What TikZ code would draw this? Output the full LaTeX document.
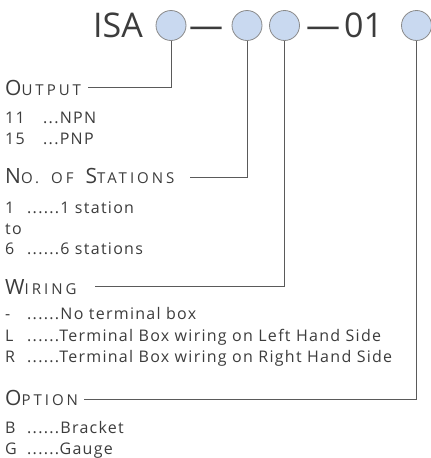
\documentclass[tikz,border=0pt]{standalone}
\usepackage{fontspec}
\setmainfont{Open Sans}[LetterSpace=8]
\newfontfamily\hdfont{Open Sans}[LetterSpace=20]
\newfontfamily\ttlfont{Open Sans}
\definecolor{txt}{HTML}{3C3C3C}
\definecolor{ln}{HTML}{5A5A5A}
\definecolor{bub}{HTML}{C9D9F0}
\definecolor{bubline}{HTML}{8A8A8A}
\newcommand\hsc[2]{{\fontsize{21}{21}\selectfont #1}{\fontsize{15}{15}\selectfont #2}}
\tikzset{
  bubble/.style={circle, draw=bubline, fill=bub, line width=0.8pt, minimum size=30pt, inner sep=0pt},
  ttl/.style={anchor=base west, inner sep=0pt, text=txt, font=\ttlfont\fontsize{34}{34}\selectfont},
  hd/.style={anchor=base west, inner sep=0pt, text=txt, font=\hdfont},
  body/.style={anchor=base west, inner sep=0pt, text=txt, font=\fontsize{16}{16}\selectfont},
  lead/.style={draw=ln, line width=0.8pt}
}
\begin{document}
\begin{tikzpicture}[x=1pt,y=-1pt]
\useasboundingbox (0,0) rectangle (431,458);
% title
\node[ttl] (isa) at (93,37) {ISA};
\node[bubble] (c1) at (171,25.5) {};
\node[ttl] (d1) at (189,37) {—};
\node[bubble] (c2) at (247,25.5) {};
\node[bubble] (c3) at (284.5,25.5) {};
\node[ttl] (d2) at (306,37) {—};
\node[ttl] (n01) at (344,37) {01};
\node[bubble] (c4) at (416.5,25.5) {};
% headers
\node[hd] (h1) at (5,95) {\hsc{O}{UTPUT}};
\node[hd] (h2) at (5,183) {\hsc{N}{O.}\hspace{12pt}\hsc{}{OF}\hspace{12pt}\hsc{S}{TATIONS}};
\node[hd] (h3) at (5,294) {\hsc{W}{IRING}};
\node[hd] (h4) at (5,405) {\hsc{O}{PTION}};
% leader ends
\coordinate (e1) at (88,87);
\coordinate (e2) at (190,177);
\coordinate (e3) at (95,286);
\coordinate (e4) at (84,399);
\draw[lead] (c1.south) |- (e1);
\draw[lead] (c2.south) |- (e2);
\draw[lead] (c3.south) |- (e3);
\draw[lead] (c4.south) |- (e4);
% output
\node[body] (a1) at (5,123) {11};
\node[body] (a1t) at (43,123) {...NPN};
\node[body] (a2) at (5,144) {15};
\node[body] (a2t) at (43,144) {...PNP};
% stations
\node[body] (b1) at (5,213) {1};
\node[body] (b1t) at (27,213) {......1 station};
\node[body] (b2) at (5,234) {to};
\node[body] (b3) at (5,254) {6};
\node[body] (b3t) at (27,254) {......6 stations};
% wiring
\node[body] (w1) at (5,319) {-};
\node[body] (w1t) at (27,319) {......No terminal box};
\node[body] (w2) at (5,341) {L};
\node[body] (w2t) at (27,341) {......Terminal Box wiring on Left Hand Side};
\node[body] (w3) at (5,362) {R};
\node[body] (w3t) at (27,362) {......Terminal Box wiring on Right Hand Side};
% option
\node[body] (o1) at (5,433) {B};
\node[body] (o1t) at (27,433) {......Bracket};
\node[body] (o2) at (5,454) {G};
\node[body] (o2t) at (27,454) {......Gauge};
\end{tikzpicture}
\end{document}
